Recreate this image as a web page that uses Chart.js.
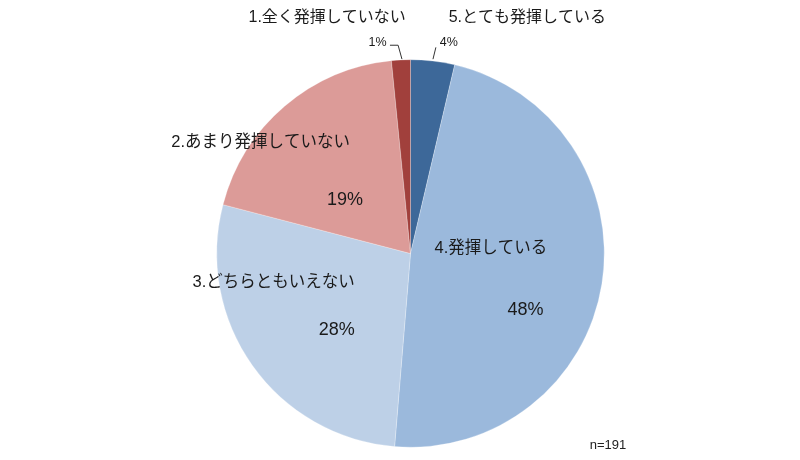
<!DOCTYPE html>
<html>
<head>
<meta charset="utf-8">
<script src="https://cdn.jsdelivr.net/npm/chart.js@4.4.1/dist/chart.umd.min.js"></script>
<style>
  html, body { margin: 0; background: #fff; }
  #wrap { width: 800px; height: 460px; }
</style>
</head>
<body>
<div id="wrap"><canvas id="pie"></canvas></div>
<script>
// slices in clockwise order starting at 12 o'clock
const categories = ['5.とても発揮している', '4.発揮している', '3.どちらともいえない', '2.あまり発揮していない', '1.全く発揮していない'];
const counts = [7, 91, 53, 37, 3];
const pctLabels = ['4%', '48%', '28%', '19%', '1%'];
const sampleNote = 'n=191';

const colors = ['#3d6899', '#9bb9dc', '#bdd0e7', '#dc9b98', '#a1403c'];
const FONT = '"Liberation Sans", Arial, "Noto Sans CJK JP", sans-serif';

// label spots as fractions of the radius, measured from the pie centre
const spots = [
  { name: [0.603, -1.219], nameSize: 16, pct: [0.198, -1.090], pctSize: 12.5, leader: [[0.131, -1.064], [0.116, -1.003]] },
  { name: [0.415, -0.028], nameSize: 16.5, pct: [0.593, 0.291], pctSize: 18 },
  { name: [-0.706, 0.152], nameSize: 16.5, pct: [-0.381, 0.394], pctSize: 18 },
  { name: [-0.773, -0.575], nameSize: 16.5, pct: [-0.338, -0.276], pctSize: 18 },
  { name: [-0.430, -1.219], nameSize: 16, pct: [-0.170, -1.090], pctSize: 12.5, leader: [[-0.106, -1.075], [-0.064, -1.075], [-0.044, -1.003]] }
];

const sliceLabels = {
  id: 'sliceLabels',
  afterDatasetsDraw(chart) {
    const ctx = chart.ctx;
    const arcs = chart.getDatasetMeta(0).data;
    ctx.save();
    ctx.fillStyle = '#1a1a1a';
    ctx.textAlign = 'center';
    ctx.textBaseline = 'middle';
    arcs.forEach((arc, i) => {
      const s = spots[i];
      const r = arc.outerRadius;
      const at = p => [arc.x + p[0] * r, arc.y + p[1] * r];
      let [x, y] = at(s.name);
      ctx.font = s.nameSize + 'px ' + FONT;
      ctx.fillText(categories[i], x, y);
      [x, y] = at(s.pct);
      ctx.font = s.pctSize + 'px ' + FONT;
      ctx.fillText(pctLabels[i], x, y);
      if (s.leader) {
        ctx.strokeStyle = '#333';
        ctx.lineWidth = 1;
        ctx.beginPath();
        s.leader.forEach((p, k) => {
          const [lx, ly] = at(p);
          if (k === 0) ctx.moveTo(lx, ly); else ctx.lineTo(lx, ly);
        });
        ctx.stroke();
      }
    });
    ctx.font = '13px ' + FONT;
    ctx.fillStyle = '#222';
    ctx.fillText(sampleNote, 608, 445);
    ctx.restore();
  }
};

new Chart(document.getElementById('pie'), {
  type: 'pie',
  data: {
    labels: categories,
    datasets: [{
      data: counts,
      backgroundColor: colors,
      borderColor: 'rgba(255,255,255,0.5)',
      borderWidth: 0.5
    }]
  },
  options: {
    responsive: true,
    maintainAspectRatio: false,
    animation: false,
    layout: { padding: { left: 216.5, right: 195.5, top: 59.5, bottom: 12.5 } },
    plugins: {
      legend: { display: false },
      tooltip: { enabled: false }
    }
  },
  plugins: [sliceLabels]
});
</script>
</body>
</html>
